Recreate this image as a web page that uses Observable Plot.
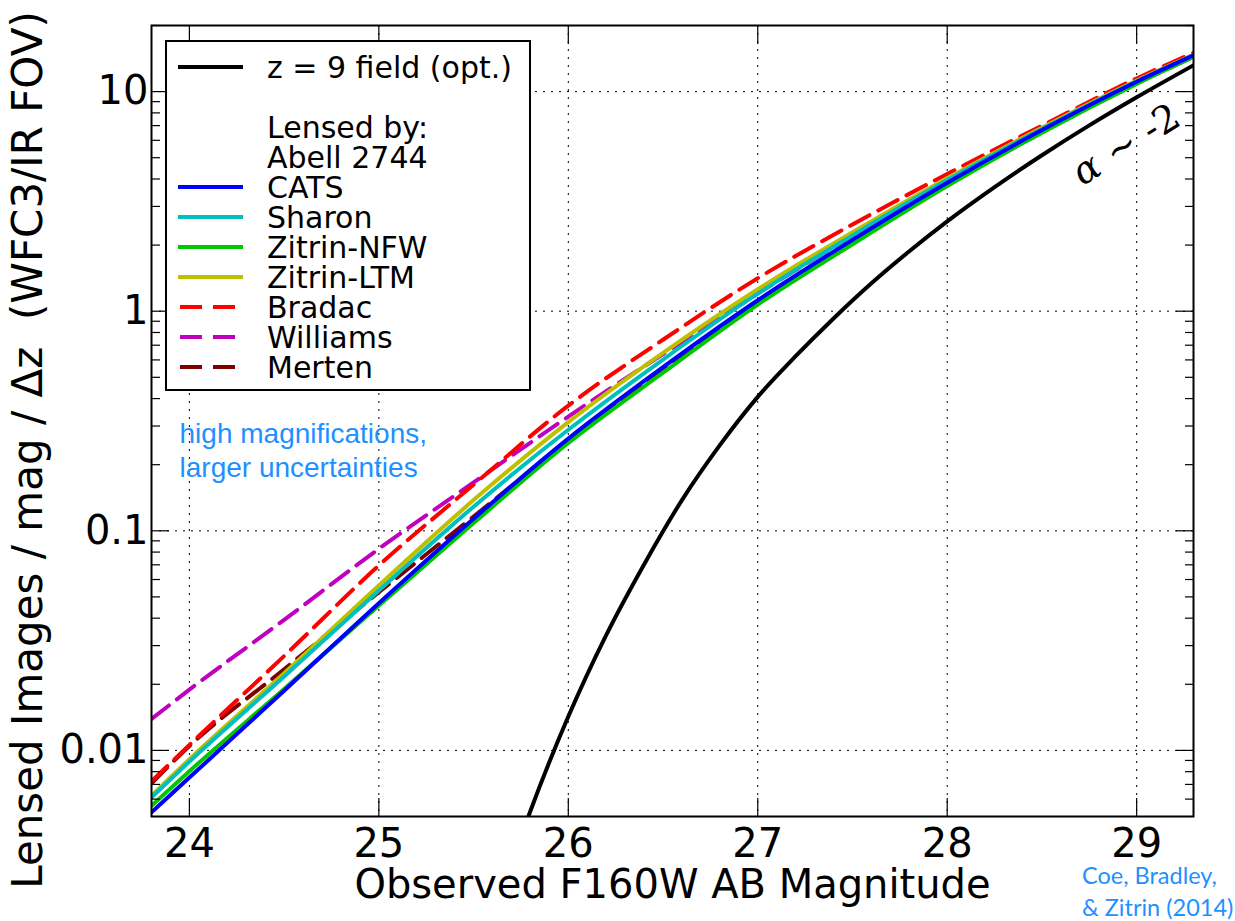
<!DOCTYPE html>
<html><head><meta charset="utf-8">
<script src="https://cdn.jsdelivr.net/npm/d3@7"></script>
<script src="https://cdn.jsdelivr.net/npm/@observablehq/plot@0.6"></script>
<style>
body{margin:0;background:#fff;}
svg text{white-space:pre;}
</style></head><body><div id="chart"></div>
<script>
// ---- data ----
const mags = [23.8, 24.0, 24.5, 25.0, 25.5, 26.0, 26.5, 27.0, 27.5, 28.0, 28.5, 29.0, 29.3];
const catsValues     = [0.00522, 0.00752, 0.0187, 0.0468, 0.1135, 0.263, 0.556, 1.122, 2.113, 3.846, 6.683, 11.09, 14.62];
const sharonValues   = [0.00611, 0.00889, 0.0217, 0.0535, 0.1288, 0.2884, 0.6026, 1.202, 2.213, 3.954, 6.761, 11.14, 14.62];
const nfwValues      = [0.00560, 0.00804, 0.01905, 0.0457, 0.1084, 0.2512, 0.5248, 1.072, 2.018, 3.715, 6.501, 10.84, 14.39];
const ltmValues      = [0.00622, 0.00912, 0.02244, 0.0564, 0.138, 0.3126, 0.6457, 1.259, 2.291, 4.027, 6.839, 11.22, 14.69];
const bradacValues   = [0.00723, 0.01059, 0.0269, 0.0695, 0.1622, 0.3715, 0.7413, 1.413, 2.483, 4.217, 6.998, 11.48, 15.0];
const williamsValues = [0.0139, 0.0189, 0.0393, 0.0828, 0.166, 0.3311, 0.6383, 1.202, 2.213, 3.936, 6.73, 11.14, 14.62];
const mertenValues   = [0.00708, 0.01047, 0.0234, 0.0525, 0.1161, 0.257, 0.537, 1.096, 2.042, 3.758, 6.531, 10.91, 14.39];

const fieldMags   = [25.7, 25.8, 26.0, 26.2, 26.4, 26.6, 26.8, 27.0, 27.2, 27.4, 27.6, 27.8, 28.0, 28.25, 28.5, 28.75, 29.0, 29.3];
const fieldValues = [0.00305, 0.0053, 0.01426, 0.0335, 0.0703, 0.138, 0.2455, 0.4074, 0.6237, 0.9268, 1.340, 1.875, 2.564, 3.673, 5.129, 7.015, 9.419, 13.18];

const fieldName = "z = 9 field (opt.)";
const lensedNames = ["CATS", "Sharon", "Zitrin-NFW", "Zitrin-LTM", "Bradac", "Williams", "Merten"];
const lensedValues = [catsValues, sharonValues, nfwValues, ltmValues, bradacValues, williamsValues, mertenValues];

const xTicks = [24, 25, 26, 27, 28, 29];
const yTicks = [0.01, 0.1, 1, 10];
const yTickLabels = ["0.01", "0.1", "1", "10"];
const yMinorTicks = [0.006, 0.007, 0.008, 0.009, 0.02, 0.03, 0.04, 0.05, 0.06, 0.07, 0.08, 0.09,
                     0.2, 0.3, 0.4, 0.5, 0.6, 0.7, 0.8, 0.9, 2, 3, 4, 5, 6, 7, 8, 9, 20];

const xLabel = "Observed F160W AB Magnitude";
const yLabel = "Lensed Images / mag / \u0394z  (WFC3/IR FOV)";
const noteText = "high magnifications,\nlarger uncertainties";
const noteAt = {x: 23.948, y: 0.175};
const alphaText = "\u03b1 \u223c -2";
const alphaAt = {x: 28.945, y: 5.73};
const creditLines = ["Coe, Bradley,", "& Zitrin (2014)"];
const legendHeader = ["Lensed by:", "Abell 2744"];

// ---- styles ----
const styles = {
  "CATS":       {stroke: "#0000ff", dash: null},
  "Sharon":     {stroke: "#00bfbf", dash: null},
  "Zitrin-NFW": {stroke: "#00c800", dash: null},
  "Zitrin-LTM": {stroke: "#bfbf00", dash: null},
  "Bradac":     {stroke: "#ff0000", dash: "22,10"},
  "Williams":   {stroke: "#bf00bf", dash: "22,10"},
  "Merten":     {stroke: "#800000", dash: "22,10"}
};
const drawOrder = ["Merten", "Williams", "Bradac", "Zitrin-LTM", "Zitrin-NFW", "Sharon", "CATS"];

const rowsFor = name => {
  const vals = lensedValues[lensedNames.indexOf(name)];
  return mags.map((m, i) => ({mag: m, value: vals[i]}));
};
const fieldRows = fieldMags.map((m, i) => ({mag: m, value: fieldValues[i]}));
const labelMap = new Map(yTicks.map((t, i) => [t, yTickLabels[i]]));
const blank = () => "";
const grid = {stroke: "black", strokeOpacity: 1, strokeWidth: 1, strokeDasharray: "2,6"};
const blue = "#1e90ff";

const plot = Plot.plot({
  width: 1235, height: 921,
  marginLeft: 151, marginRight: 42, marginTop: 25, marginBottom: 105,
  style: {fontFamily: "DejaVu Sans", fontSize: "40px", background: "white", color: "black", overflow: "visible"},
  x: {domain: [23.8, 29.3]},
  y: {type: "log", domain: [0.005, 20]},
  marks: [
    Plot.gridX(xTicks, grid),
    Plot.gridY(yTicks, grid),
    Plot.line(fieldRows, {x: "mag", y: "value", stroke: "black", strokeWidth: 4, curve: "monotone-x", clip: true}),
    ...drawOrder.map(name => Plot.line(rowsFor(name), {
      x: "mag", y: "value", stroke: styles[name].stroke, strokeWidth: 4,
      strokeDasharray: styles[name].dash, curve: "monotone-x", clip: true
    })),
    Plot.frame({stroke: "black", strokeWidth: 2}),
    Plot.axisX(xTicks, {anchor: "bottom", tickSize: -18, tickFormat: blank, label: null, strokeWidth: 1.2}),
    Plot.axisX(xTicks, {anchor: "top", tickSize: -18, tickFormat: blank, label: null, strokeWidth: 1.2}),
    Plot.axisY(yTicks, {anchor: "left", tickSize: -18, tickFormat: blank, label: null, strokeWidth: 1.2}),
    Plot.axisY(yTicks, {anchor: "right", tickSize: -18, tickFormat: blank, label: null, strokeWidth: 1.2}),
    Plot.axisY(yMinorTicks, {anchor: "left", tickSize: -9, tickFormat: blank, label: null, strokeWidth: 1.2}),
    Plot.axisY(yMinorTicks, {anchor: "right", tickSize: -9, tickFormat: blank, label: null, strokeWidth: 1.2}),
    Plot.axisX(xTicks, {anchor: "bottom", tickSize: 0, tickPadding: 12, fontSize: 40, label: null, tickFormat: d => String(d)}),
    Plot.axisY(yTicks, {anchor: "left", tickSize: 0, tickPadding: 3, fontSize: 40, label: null, tickFormat: d => labelMap.get(d)}),
    Plot.text([xLabel], {text: d => d, frameAnchor: "bottom", dy: 81, lineAnchor: "bottom", textAnchor: "middle", fontSize: 40}),
    Plot.text([yLabel], {text: d => d, frameAnchor: "left", dx: -123, dy: 29, rotate: -90, lineAnchor: "middle", textAnchor: "middle", fontSize: 42}),
    Plot.text([noteText], {text: d => d, x: noteAt.x, y: noteAt.y, textAnchor: "start", lineAnchor: "bottom",
      lineHeight: 1.214, fontSize: 28, fontFamily: "Liberation Sans, Arial, sans-serif", fill: blue}),
    Plot.text([alphaText], {text: d => d, x: alphaAt.x, y: alphaAt.y, rotate: -32, textAnchor: "middle", lineAnchor: "middle",
      fontSize: 38, fontFamily: "DejaVu Serif, serif", fill: "black"})
  ]
});
document.getElementById("chart").appendChild(plot);

const svg = d3.select(plot);
// italic alpha
svg.selectAll("text").filter(function() { return this.textContent === alphaText; }).each(function() {
  const t = d3.select(this);
  t.text(null);
  t.append("tspan").attr("font-style", "italic").text("\u03b1");
  t.append("tspan").text(" \u223c -2");
});

// legend
const legendRows = [
  {label: fieldName, stroke: "black", dash: null},
  {label: "", stroke: null},
  {label: legendHeader[0], stroke: null},
  {label: legendHeader[1], stroke: null},
  ...lensedNames.map(n => ({label: n, stroke: styles[n].stroke, dash: styles[n].dash}))
];
const lg = svg.append("g").attr("font-family", "DejaVu Sans").attr("font-size", 30).attr("text-anchor", "start");
lg.append("rect").attr("x", 166).attr("y", 41).attr("width", 364).attr("height", 349)
  .attr("fill", "white").attr("stroke", "black").attr("stroke-width", 2);
legendRows.forEach((r, i) => {
  const y = 67 + 30 * i;
  if (r.stroke) {
    lg.append("line").attr("x1", 178).attr("x2", 243).attr("y1", y).attr("y2", y)
      .attr("stroke", r.stroke).attr("stroke-width", 4)
      .attr("stroke-dasharray", r.dash ? "22,11" : null).attr("stroke-dashoffset", r.dash ? -2 : null);
  }
  if (r.label) lg.append("text").attr("x", 267).attr("y", y).attr("dy", "0.36em").attr("fill", "black").text(r.label);
});

// credit
const cr = svg.append("g").attr("font-family", "Lato, sans-serif").attr("font-size", 23.5).attr("fill", blue).attr("text-anchor", "start");
creditLines.forEach((s, i) => cr.append("text").attr("x", 1082).attr("y", 884 + 32 * i).text(s));
</script></body></html>
